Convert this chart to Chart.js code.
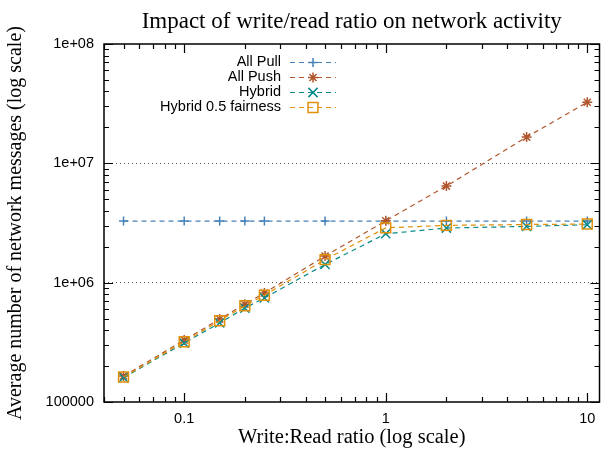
<!DOCTYPE html>
<html lang="en">
<head>
<meta charset="UTF-8">
<title>Impact of write/read ratio on network activity</title>
<script src="https://cdn.jsdelivr.net/npm/chart.js"></script>
<style>
  body { margin: 0; background: #fff; }
  canvas { display: block; }
</style>
</head>
<body>
<canvas id="chart" width="608" height="450"></canvas>
<script>
// write:read ratios measured
const ratios = [0.05, 0.1, 0.15, 0.2, 0.25, 0.5, 1, 2, 5, 10];

// average number of network messages per strategy
const allPull     = [3280000, 3280000, 3280000, 3280000, 3280000, 3280000, 3280000, 3280000, 3280000, 3280000];
const allPush     = [165000, 330000, 495000, 660000, 820000, 1670000, 3300000, 6450000, 16600000, 32500000];
const hybrid      = [160000, 312000, 460000, 612000, 745000, 1420000, 2570000, 2870000, 2960000, 3060000];
const hybridFair  = [162000, 320000, 480000, 640000, 785000, 1560000, 2880000, 3020000, 3070000, 3100000];

const xTickValues = [0.1, 1, 10];
const xTickLabels = ['0.1', '1', '10'];
const yTickValues = [100000, 1000000, 10000000, 100000000];
const yTickLabels = ['100000', '1e+06', '1e+07', '1e+08'];

const SANS = '"Liberation Sans", Arial, sans-serif';
const SERIF = '"Liberation Serif", "Times New Roman", serif';

function series(label, values, color, style, radius, order) {
  return {
    label: label,
    data: ratios.map((r, i) => ({ x: r, y: values[i] })),
    borderColor: color,
    backgroundColor: 'transparent',
    borderWidth: 1.2,
    borderDash: [5, 4],
    pointStyle: style,
    pointRadius: radius,
    pointBorderColor: color,
    pointBackgroundColor: 'transparent',
    pointBorderWidth: 1.5,
    tension: 0,
    order: order
  };
}

// gnuplot-like frame with inward major/minor ticks on all sides
const frame = {
  id: 'frame',
  afterDatasetsDraw(chart) {
    const { ctx, chartArea: a, scales: { x, y } } = chart;
    ctx.save();
    ctx.strokeStyle = '#000';
    ctx.lineWidth = 1.2;
    ctx.beginPath();
    for (let e = -2; e <= 1; e++) {
      for (let m = 1; m <= 9; m++) {
        const v = m * Math.pow(10, e);
        if (v < x.min * 0.999 || v > x.max) continue;
        const px = Math.round(x.getPixelForValue(v)) + 0.5;
        const len = m === 1 ? 9 : 5;
        ctx.moveTo(px, a.bottom); ctx.lineTo(px, a.bottom - len);
        ctx.moveTo(px, a.top); ctx.lineTo(px, a.top + len);
      }
    }
    for (let e = 5; e <= 8; e++) {
      for (let m = 1; m <= 9; m++) {
        const v = m * Math.pow(10, e);
        if (v < y.min || v > y.max) continue;
        const py = Math.round(y.getPixelForValue(v)) + 0.5;
        const len = m === 1 ? 9 : 5;
        ctx.moveTo(a.left, py); ctx.lineTo(a.left + len, py);
        ctx.moveTo(a.right, py); ctx.lineTo(a.right - len, py);
      }
    }
    ctx.stroke();
    ctx.lineWidth = 1.5;
    ctx.strokeRect(a.left, a.top, a.right - a.left, a.bottom - a.top);
    ctx.restore();
  }
};

// key in gnuplot layout: text right-aligned, sample to its right
const key = {
  id: 'key',
  afterDraw(chart) {
    const { ctx, chartArea: a } = chart;
    ctx.save();
    ctx.font = '14.5px ' + SANS;
    ctx.textAlign = 'right';
    ctx.textBaseline = 'middle';
    chart.data.datasets.forEach((ds, i) => {
      const yy = a.top + 18 + i * 15;
      ctx.fillStyle = '#000';
      ctx.fillText(ds.label, a.left + 177, yy);
      ctx.strokeStyle = ds.borderColor;
      ctx.lineWidth = ds.borderWidth;
      ctx.setLineDash(ds.borderDash);
      ctx.beginPath();
      ctx.moveTo(a.left + 186, Math.round(yy) + 0.5);
      ctx.lineTo(a.left + 232, Math.round(yy) + 0.5);
      ctx.stroke();
      ctx.setLineDash([]);
      ctx.lineWidth = ds.pointBorderWidth;
      ctx.fillStyle = 'rgba(0,0,0,0)';
      Chart.helpers.drawPoint(ctx, {
        pointStyle: ds.pointStyle, radius: ds.pointRadius, rotation: 0, borderWidth: ds.pointBorderWidth
      }, a.left + 209, Math.round(yy) + 0.5);
    });
    ctx.restore();
  }
};

Chart.defaults.color = '#000';

new Chart(document.getElementById('chart'), {
  type: 'line',
  data: {
    datasets: [
      series('All Pull', allPull, '#4682b8', 'cross', 4.5, 4),
      series('All Push', allPush, '#b0562c', 'star', 5, 3),
      series('Hybrid', hybrid, '#0a8a8a', 'crossRot', 6.5, 2),
      series('Hybrid 0.5 fairness', hybridFair, '#e0900a', 'rect', 7, 1)
    ]
  },
  options: {
    responsive: false,
    animation: false,
    devicePixelRatio: 1,
    layout: { padding: { left: 0, right: 5, top: 0, bottom: 0 } },
    plugins: {
      legend: { display: false },
      tooltip: { enabled: false },
      title: {
        display: true,
        text: 'Impact of write/read ratio on network activity',
        fullSize: false,
        color: '#000',
        font: { family: SERIF, size: 23, weight: 'normal' },
        padding: { top: 8, bottom: 8.4 }
      }
    },
    scales: {
      x: {
        type: 'logarithmic',
        min: 0.04,
        max: 11.5,
        afterBuildTicks: s => { s.ticks = xTickValues.map(v => ({ value: v })); },
        afterFit: s => { s.height = 48; },
        grid: { display: false },
        border: { display: false },
        ticks: {
          autoSkip: false,
          maxRotation: 0,
          padding: 0,
          font: { family: SANS, size: 14.5 },
          callback: v => xTickLabels[xTickValues.indexOf(v)]
        },
        title: {
          display: true,
          text: 'Write:Read ratio (log scale)',
          font: { family: SERIF, size: 20.5 },
          padding: { top: 0, bottom: 0 }
        }
      },
      y: {
        type: 'logarithmic',
        min: 100000,
        max: 100000000,
        afterBuildTicks: s => { s.ticks = yTickValues.map(v => ({ value: v })); },
        afterFit: s => { s.width = 104; },
        grid: {
          drawTicks: false,
          lineWidth: 1,
          color: c => (c.tick && (c.tick.value === 1000000 || c.tick.value === 10000000)) ? '#555' : 'rgba(0,0,0,0)'
        },
        border: { display: false, dash: [1, 3] },
        ticks: {
          autoSkip: false,
          padding: 10,
          font: { family: SANS, size: 14.5 },
          callback: v => yTickLabels[yTickValues.indexOf(v)]
        },
        title: {
          display: true,
          text: 'Average number of network messages (log scale)',
          font: { family: SERIF, size: 20 },
          padding: { top: 4, bottom: 0 }
        }
      }
    }
  },
  plugins: [frame, key]
});
</script>
</body>
</html>
